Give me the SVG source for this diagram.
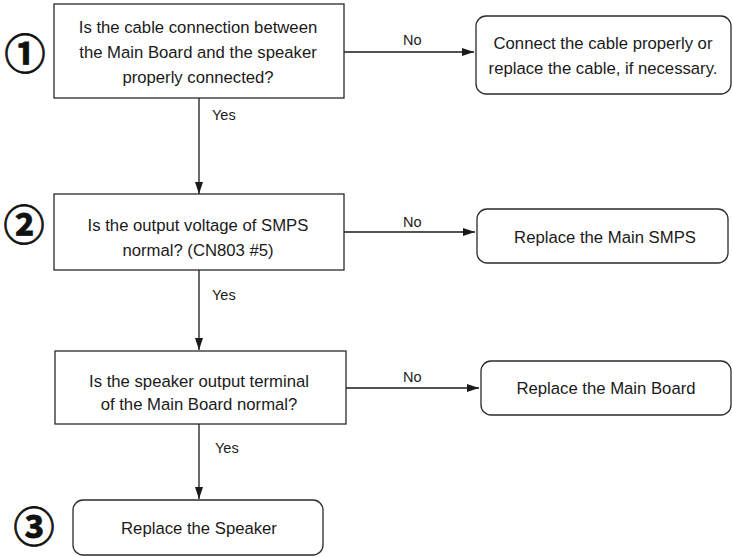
<svg xmlns="http://www.w3.org/2000/svg" width="733" height="557" viewBox="0 0 733 557">
<defs>
<marker id="arr" markerUnits="userSpaceOnUse" markerWidth="12" markerHeight="8" refX="12" refY="4" orient="auto">
<path d="M0,0 L12,4 L0,8 z" fill="#1a1a1a"/>
</marker>
<style>
.box{fill:#fff;stroke:#2a2a2a;stroke-width:1.3}
.t{font-family:"Liberation Sans",Arial,sans-serif;font-size:16.7px;fill:#1a1a1a;text-anchor:middle}
.lbl{font-family:"Liberation Sans",Arial,sans-serif;font-size:14.5px;fill:#1a1a1a}
.c{fill:none;stroke:#1a1a1a;stroke-width:1.3}
.num{font-family:"Noto Sans CJK JP","DejaVu Sans",sans-serif;font-weight:700;font-size:41px;fill:#111;stroke:#111;stroke-width:0.8;text-anchor:middle}
</style>
</defs>
<rect width="733" height="557" fill="#fff"/>
<g id="connectors">
<line class="c" x1="199" y1="98" x2="199" y2="194" marker-end="url(#arr)"/>
<line class="c" x1="344" y1="52" x2="474" y2="52" marker-end="url(#arr)"/>
<line class="c" x1="199" y1="270" x2="199" y2="350" marker-end="url(#arr)"/>
<line class="c" x1="344" y1="232" x2="475" y2="232" marker-end="url(#arr)"/>
<line class="c" x1="199" y1="424" x2="199" y2="499" marker-end="url(#arr)"/>
<line class="c" x1="346" y1="388" x2="479" y2="388" marker-end="url(#arr)"/>
<text class="lbl" x="403" y="45">No</text>
<text class="lbl" x="403" y="227">No</text>
<text class="lbl" x="403" y="382">No</text>
<text class="lbl" x="212" y="120">Yes</text>
<text class="lbl" x="212" y="300">Yes</text>
<text class="lbl" x="215" y="453">Yes</text>
</g>
<g id="step1"><text class="num" x="25" y="69">①</text></g>
<g id="step2"><text class="num" x="24" y="240">②</text></g>
<g id="step3"><text class="num" x="34" y="542">③</text></g>
<g id="q1">
<rect class="box" x="54" y="4" width="290" height="94"/>
<text class="t" x="198" y="33">Is the cable connection between</text>
<text class="t" x="198" y="58">the Main Board and the speaker</text>
<text class="t" x="198" y="83">properly connected?</text>
</g>
<g id="a1">
<rect class="box" x="476" y="16" width="255" height="78" rx="10"/>
<text class="t" x="603" y="49">Connect the cable properly or</text>
<text class="t" x="603" y="74">replace the cable, if necessary.</text>
</g>
<g id="q2">
<rect class="box" x="54" y="194" width="290" height="76"/>
<text class="t" x="198" y="231">Is the output voltage of SMPS</text>
<text class="t" x="198" y="256">normal? (CN803 #5)</text>
</g>
<g id="a2">
<rect class="box" x="477" y="209" width="251" height="54" rx="10"/>
<text class="t" x="605" y="243">Replace the Main SMPS</text>
</g>
<g id="q3">
<rect class="box" x="55" y="351" width="291" height="73"/>
<text class="t" x="199" y="387">Is the speaker output terminal</text>
<text class="t" x="199" y="410">of the Main Board normal?</text>
</g>
<g id="a3">
<rect class="box" x="481" y="361" width="250" height="54" rx="10"/>
<text class="t" x="606" y="394">Replace the Main Board</text>
</g>
<g id="a4">
<rect class="box" x="73" y="500" width="250" height="55" rx="10"/>
<text class="t" x="199" y="534">Replace the Speaker</text>
</g>
</svg>
